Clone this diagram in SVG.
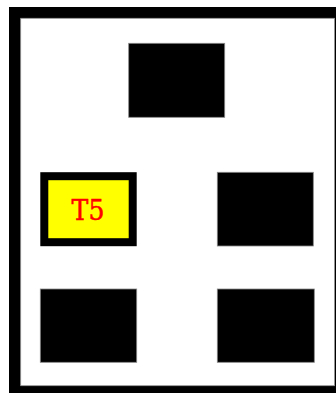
<svg xmlns="http://www.w3.org/2000/svg" width="336" height="394" viewBox="0 0 336 394">
<style>
.blk{fill:#000;stroke:#888;stroke-width:0.8}
.lbl{font-family:"DejaVu Serif",serif;font-stretch:condensed;font-size:28px;fill:#ff0000;text-anchor:middle;stroke:#ff0000;stroke-width:0.5}
</style>
<rect x="0" y="0" width="336" height="394" fill="#fff"/>
<rect x="9" y="7" width="340" height="386" fill="#000"/>
<rect x="20.7" y="18.3" width="313.8" height="367.4" fill="#fff" stroke="#999" stroke-width="0.8"/>
<g id="n1"><rect class="blk" x="128.7" y="43.3" width="96" height="74"/></g>
<g id="t5"><rect x="44.3" y="176.2" width="88.4" height="66" fill="#ffff00" stroke="#000" stroke-width="8"/><text class="lbl" x="88" y="219.5">T5</text></g>
<g id="n3"><rect class="blk" x="217.3" y="172.3" width="96" height="73.7"/></g>
<g id="n4"><rect class="blk" x="40.3" y="289" width="96.4" height="73.3"/></g>
<g id="n5"><rect class="blk" x="217.3" y="289" width="97" height="73.3"/></g>
<g id="connectors"></g>
</svg>
